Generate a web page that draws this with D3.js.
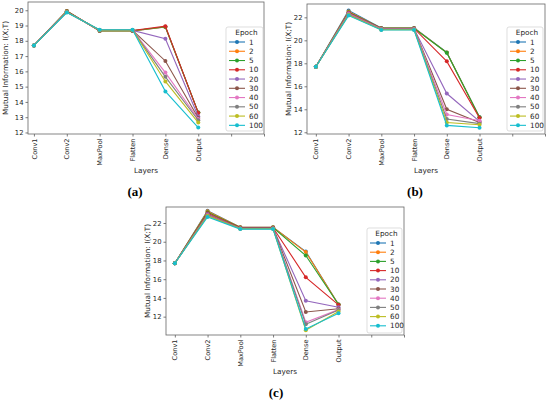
<!DOCTYPE html>
<html>
<head>
<meta charset="utf-8">
<script src="https://cdn.jsdelivr.net/npm/d3@7"></script>
<style>
  body { margin: 0; background: #fff; }
  svg text { font-family: "DejaVu Sans", sans-serif; fill: #262626; }
</style>
</head>
<body>
<svg id="chart" width="550" height="402"></svg>
<script>
// layer names on the x axis (two extra blank ticks on the right, as in the figure)
const layers = ['Conv1', 'Conv2', 'MaxPool', 'Flatten', 'Dense', 'Output']
const xTickLabels = ['Conv1', 'Conv2', 'MaxPool', 'Flatten', 'Dense', 'Output', '', '']
const epochs = ['1', '2', '5', '10', '20', '30', '40', '50', '60', '100']
const epochColors = ['#1f77b4', '#ff7f0e', '#2ca02c', '#d62728', '#9467bd',
  '#8c564b', '#e377c2', '#7f7f7f', '#bcbd22', '#17becf']

// panel (a): one row per epoch, one value per layer
const valuesA = [
  [17.7, 19.95, 18.65, 18.65, 18.9, 13.3],
  [17.7, 19.95, 18.65, 18.65, 18.9, 13.3],
  [17.7, 19.93, 18.66, 18.66, 18.92, 13.3],
  [17.7, 19.92, 18.67, 18.67, 18.96, 13.28],
  [17.7, 19.9, 18.68, 18.68, 18.13, 13.05],
  [17.7, 19.9, 18.69, 18.69, 16.68, 12.95],
  [17.7, 19.88, 18.7, 18.7, 15.92, 12.88],
  [17.7, 19.88, 18.7, 18.7, 15.64, 12.8],
  [17.7, 19.87, 18.71, 18.71, 15.34, 12.65],
  [17.7, 19.85, 18.72, 18.72, 14.69, 12.32]
]
// panel (b)
const valuesB = [
  [17.7, 22.6, 21.08, 21.08, 18.95, 13.3],
  [17.7, 22.5, 21.06, 21.06, 18.93, 13.28],
  [17.7, 22.45, 21.05, 21.05, 18.92, 13.3],
  [17.7, 22.4, 21.03, 21.03, 18.17, 13.25],
  [17.7, 22.35, 21.0, 21.0, 15.37, 12.95],
  [17.7, 22.3, 21.0, 21.0, 14.0, 12.85],
  [17.7, 22.3, 20.98, 20.98, 13.55, 13.0],
  [17.7, 22.25, 20.95, 20.95, 13.15, 12.75],
  [17.7, 22.2, 20.93, 20.93, 12.85, 12.65],
  [17.7, 22.15, 20.9, 20.9, 12.6, 12.4]
]
// panel (c)
const valuesC = [
  [17.7, 23.3, 21.55, 21.55, 18.95, 13.3],
  [17.7, 23.25, 21.55, 21.55, 18.9, 13.3],
  [17.7, 23.15, 21.52, 21.52, 18.53, 13.3],
  [17.7, 23.05, 21.5, 21.5, 16.2, 13.25],
  [17.7, 22.95, 21.45, 21.45, 13.7, 13.0],
  [17.7, 22.9, 21.45, 21.45, 12.5, 12.85],
  [17.7, 22.85, 21.42, 21.42, 11.4, 12.75],
  [17.7, 22.8, 21.4, 21.4, 11.2, 12.7],
  [17.7, 22.75, 21.38, 21.38, 10.55, 12.55],
  [17.7, 22.65, 21.35, 21.35, 10.68, 12.35]
]
const yTicksA = [12, 13, 14, 15, 16, 17, 18, 19, 20]
const yTicksB = [12, 14, 16, 18, 20, 22]
const yTicksC = [12, 14, 16, 18, 20, 22]

const svg = d3.select('#chart')
const color = d3.scaleOrdinal().domain(epochs).range(epochColors)

// 畫一個子圖
function drawPanel(values, p) {
  const g = svg.append('g')
  const x = d3.scaleLinear().domain(p.xDomain).range([p.left, p.right])
  const y = d3.scaleLinear().domain(p.yDomain).range([p.bottom, p.top])

  // x axis
  const xAxis = g.append('g')
    .attr('transform', `translate(0,${p.bottom})`)
    .call(d3.axisBottom(x).tickValues(d3.range(xTickLabels.length))
      .tickFormat(i => xTickLabels[i]).tickSize(2.5).tickPadding(2))
  xAxis.selectAll('text')
    .attr('transform', 'rotate(-90)')
    .attr('x', -4.5).attr('y', 0).attr('dy', '0.32em')
    .style('text-anchor', 'end')
    .style('font-size', '6.6px')

  // y axis
  const yAxis = g.append('g')
    .attr('transform', `translate(${p.left},0)`)
    .call(d3.axisLeft(y).tickValues(p.yTicks).tickSize(2.5).tickPadding(2))
  yAxis.selectAll('text').style('font-size', '6.8px')
  g.selectAll('.domain').remove()
  g.selectAll('.tick line').attr('stroke', '#444').attr('stroke-width', 0.7)

  // frame
  g.append('rect')
    .attr('x', p.left).attr('y', p.top)
    .attr('width', p.right - p.left).attr('height', p.bottom - p.top)
    .attr('fill', 'none').attr('stroke', '#666').attr('stroke-width', 0.8)

  // lines + markers
  const line = d3.line().x((d, i) => x(i)).y(d => y(d))
  values.forEach((row, k) => {
    const c = color(epochs[k])
    g.append('path').datum(row)
      .attr('d', line).attr('fill', 'none')
      .attr('stroke', c).attr('stroke-width', 1.1)
    g.selectAll(null).data(row).enter().append('circle')
      .attr('cx', (d, i) => x(i)).attr('cy', d => y(d))
      .attr('r', 2).attr('fill', c)
  })

  // axis labels
  g.append('text')
    .attr('x', (p.left + p.right) / 2).attr('y', p.xLabelY)
    .attr('text-anchor', 'middle').style('font-size', '7.3px')
    .text('Layers')
  g.append('text')
    .attr('transform', `translate(${p.yLabelX},${(p.top + p.bottom) / 2}) rotate(-90)`)
    .attr('text-anchor', 'middle').style('font-size', '7.3px')
    .text('Mutual Information: I(X;T)')

  // legend
  const lg = g.append('g').attr('transform', `translate(${p.legX},${p.legY})`)
  lg.append('rect')
    .attr('width', p.legW).attr('height', p.legH).attr('rx', 2)
    .attr('fill', '#fff').attr('fill-opacity', 0.85)
    .attr('stroke', '#d0d0d0').attr('stroke-width', 0.7)
  lg.append('text')
    .attr('x', p.legW / 2 + 2).attr('y', 8)
    .attr('text-anchor', 'middle').style('font-size', '7.3px')
    .text('Epoch')
  const item = lg.selectAll('.item').data(epochs).enter().append('g')
    .attr('transform', (d, i) => `translate(0,${15 + i * p.legStep})`)
  item.append('line')
    .attr('x1', 3).attr('x2', 19)
    .attr('stroke', d => color(d)).attr('stroke-width', 1.1)
  item.append('circle').attr('cx', 11).attr('r', 2).attr('fill', d => color(d))
  item.append('text')
    .attr('x', 23).attr('dy', '0.35em').style('font-size', '7.3px')
    .text(d => d)

  // panel tag
  svg.append('text')
    .attr('x', p.tagX).attr('y', p.tagY)
    .attr('text-anchor', 'middle')
    .style('font-family', '"Liberation Serif", serif')
    .style('font-size', '13px').style('font-weight', 'bold')
    .style('fill', '#000')
    .text(p.tag)
}

drawPanel(valuesA, {
  left: 28, right: 264, top: 2, bottom: 134,
  xDomain: [-0.18, 7], yDomain: [11.9, 20.54], yTicks: yTicksA,
  xLabelY: 173, yLabelX: 8,
  legX: 226, legY: 27, legW: 37, legH: 104, legStep: 9.26,
  tag: '(a)', tagX: 135, tagY: 196
})
drawPanel(valuesB, {
  left: 307, right: 545, top: 4, bottom: 134,
  xDomain: [-0.27, 7], yDomain: [11.85, 23.16], yTicks: yTicksB,
  xLabelY: 173, yLabelX: 291,
  legX: 507, legY: 27, legW: 36, legH: 104, legStep: 9.26,
  tag: '(b)', tagX: 415, tagY: 196
})
drawPanel(valuesC, {
  left: 166, right: 404, top: 207, bottom: 335,
  xDomain: [-0.27, 7], yDomain: [10.04, 23.71], yTicks: yTicksC,
  xLabelY: 374, yLabelX: 150,
  legX: 367, legY: 228, legW: 35, legH: 105, legStep: 9.2,
  tag: '(c)', tagX: 276, tagY: 397
})
</script>
</body>
</html>
